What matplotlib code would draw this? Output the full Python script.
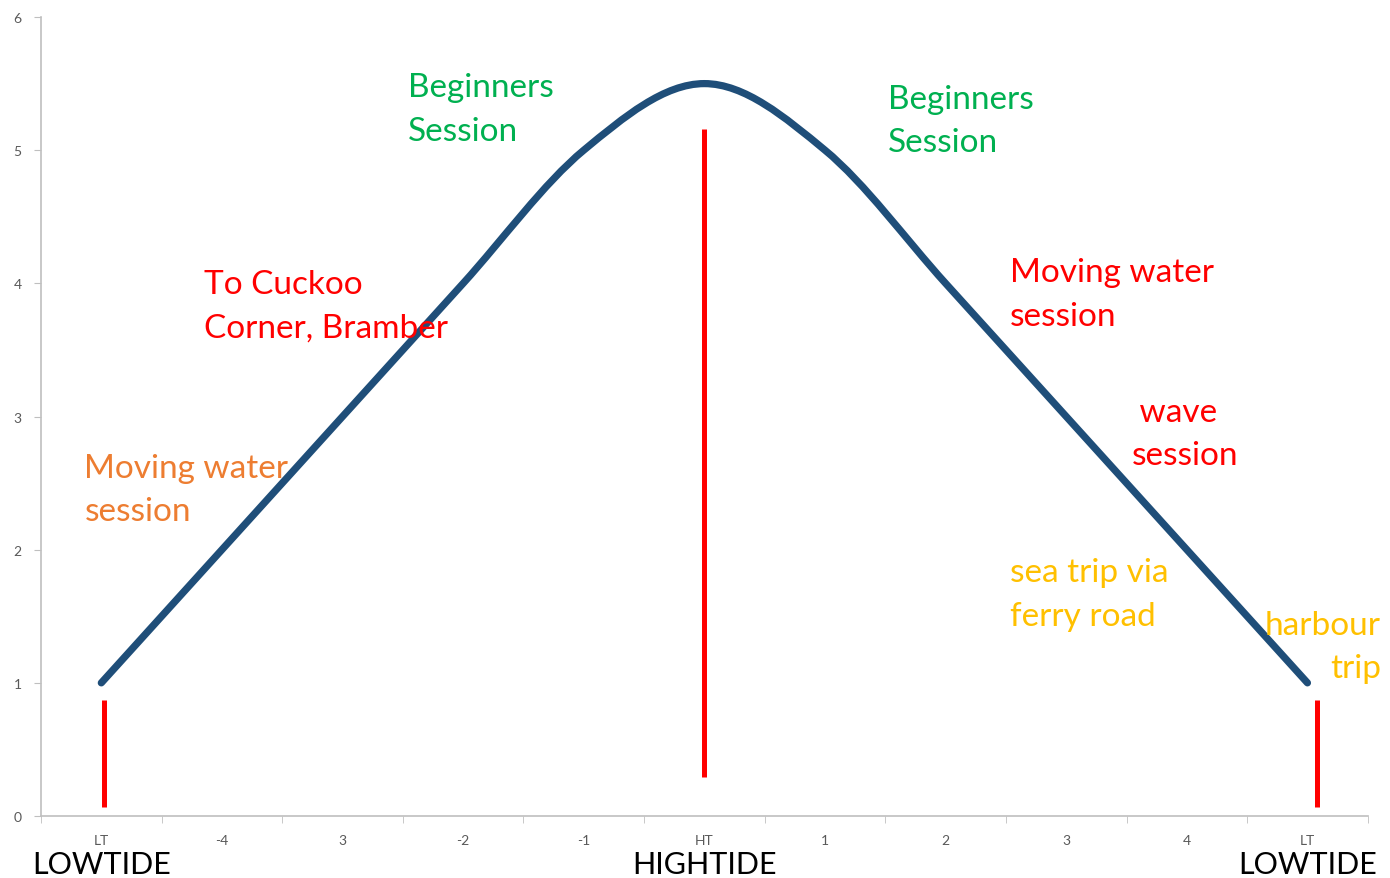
import numpy as np
import matplotlib.pyplot as plt
from matplotlib.path import Path
from matplotlib.patches import PathPatch

plt.rcParams['font.family'] = ['Lato', 'DejaVu Sans']

# data
categories = ["LT", "-4", "3", "-2", "-1", "HT", "1", "2", "3", "4", "LT"]
tide = [1.0, 2.0, 3.0, 4.0, 5.0, 5.5, 5.0, 4.0, 3.0, 2.0, 1.0]

red_x = [0.02, 5.0, 10.08]
red_low = [0.07, 0.29, 0.07]
red_high = [0.87, 5.16, 0.87]

notes = [
    ("Beginners\nSession", 2.54, 5.31, "#00B050", "left"),
    ("Beginners\nSession", 6.52, 5.22, "#00B050", "left"),
    ("To Cuckoo\nCorner, Bramber", 0.85, 3.83, "#FF0000", "left"),
    ("Moving water\nsession", -0.14, 2.455, "#ED7D31", "left"),
    ("Moving water\nsession", 7.53, 3.92, "#FF0000", "left"),
    (" wave\nsession", 8.54, 2.875, "#FF0000", "left"),
    ("sea trip via\nferry road", 7.53, 1.667, "#FFC000", "left"),
    ("harbour\ntrip", 10.61, 1.276, "#FFC000", "right"),
]

big_labels = [("LOWTIDE", 0), ("HIGHTIDE", 5), ("LOWTIDE", 10)]

fig = plt.figure(figsize=(13.9, 8.79), dpi=100)
ax = fig.add_axes([0.0295, 0.0705, 0.9545, 0.909])

# smoothed line (Catmull-Rom style, like Excel's smoothed line)
x = np.arange(len(tide), dtype=float)
y = np.array(tide)
px = np.concatenate([[x[0]], x, [x[-1]]])
py = np.concatenate([[y[0]], y, [y[-1]]])
verts = [(x[0], y[0])]
codes = [Path.MOVETO]
for i in range(1, len(px) - 2):
    c1 = (px[i] + (px[i + 1] - px[i - 1]) / 6, py[i] + (py[i + 1] - py[i - 1]) / 6)
    c2 = (px[i + 1] - (px[i + 2] - px[i]) / 6, py[i + 1] - (py[i + 2] - py[i]) / 6)
    verts += [c1, c2, (px[i + 1], py[i + 1])]
    codes += [Path.CURVE4] * 3
patch = PathPatch(Path(verts, codes), fill=False, edgecolor="#1F4E79",
                  linewidth=5.2, capstyle="round", joinstyle="round", zorder=3)
ax.add_patch(patch)

ax.vlines(red_x, red_low, red_high, colors="#FF0000", linewidth=3.6, zorder=4)

for txt, tx, ty, col, ha in notes:
    ax.text(tx, ty, txt, color=col, fontsize=24, ha=ha, va="center",
            linespacing=1.55, zorder=5)

for txt, tx in big_labels:
    ax.text(tx, -0.36, txt, color="black", fontsize=22, ha="center",
            va="center", clip_on=False)

ax.set_xlim(-0.5, 10.5)
ax.set_ylim(0, 6)
ax.set_xticks(x)
ax.set_xticklabels(categories)
ax.set_xticks(np.arange(-0.5, 11, 1), minor=True)
ax.tick_params(axis="x", which="major", length=0, pad=13, labelsize=10,
               labelcolor="#595959")
ax.tick_params(axis="x", which="minor", length=5, color="#BFBFBF")
ax.set_yticks([0, 1, 2, 3, 4, 5, 6])
ax.tick_params(axis="y", length=5, color="#BFBFBF", pad=9, labelsize=10,
               labelcolor="#595959")

for s in ["top", "right"]:
    ax.spines[s].set_visible(False)
for s in ["left", "bottom"]:
    ax.spines[s].set_color("#BFBFBF")
    ax.spines[s].set_linewidth(1.2)

fig.savefig("out.png", dpi=100)
